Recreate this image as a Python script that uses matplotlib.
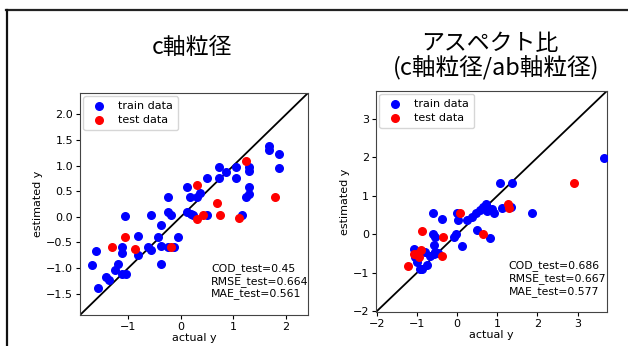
import matplotlib
matplotlib.use("Agg")
import matplotlib.pyplot as plt
from matplotlib.lines import Line2D

# c-axis grain size
c_train_x = [-1.69, -1.62, -1.57, -1.43, -1.37, -1.25, -1.19, -1.12, -1.12, -1.12, -1.05, -1.06,
             -0.81, -0.81, -0.63, -0.57, -0.57, -0.44, -0.38, -0.38, -0.38, -0.25, -0.25, -0.25,
             -0.19, -0.13, -0.06, 0.11, 0.11, 0.17, 0.19, 0.23, 0.30, 0.36, 0.49, 0.49, 0.73,
             0.73, 0.85, 1.05, 1.05, 1.17, 1.24, 1.30, 1.30, 1.30, 1.30, 1.67, 1.67, 1.86, 1.86]
c_train_y = [-0.95, -0.66, -1.39, -1.17, -1.24, -1.05, -0.93, -0.59, -0.71, -1.11, -1.11, 0.02,
             -0.38, -0.74, -0.59, 0.03, -0.64, -0.39, -0.16, -0.58, -0.93, 0.39, 0.09, -0.60,
             0.03, -0.59, -0.39, 0.59, 0.09, 0.39, 0.05, 0.03, 0.39, 0.47, 0.76, 0.03, 0.97,
             0.76, 0.88, 0.97, 0.76, 0.03, 0.39, 0.98, 0.90, 0.59, 0.44, 1.38, 1.30, 1.22, 0.95]
c_test_x = [-1.31, -1.06, -0.88, -0.19, 0.30, 0.30, 0.43, 0.68, 0.74, 1.11, 1.24, 1.79]
c_test_y = [-0.59, -0.39, -0.63, -0.59, 0.62, -0.04, 0.03, 0.26, 0.03, -0.03, 1.09, 0.39]
c_stats = ["COD_test=0.45", "RMSE_test=0.664", "MAE_test=0.561"]

# aspect ratio
a_train_x = [-1.08, -1.04, -1.00, -0.93, -0.875, -0.79, -0.75, -0.67, -0.58, -0.54, -0.48,
             -0.60, -0.60, -0.54, -0.58, -0.375, -0.08, -0.04, 0.00, 0.03, 0.125, 0.25, 0.375,
             0.46, 0.50, 0.57, 0.65, 0.71, 0.75, 0.79, 0.83, 0.875, 0.93, 1.06, 1.11, 1.33,
             1.375, 1.875, 3.65]
a_train_y = [-0.37, -0.59, -0.72, -0.89, -0.89, -0.46, -0.80, -0.57, -0.52, -0.46, -0.48,
             0.56, 0.00, -0.07, -0.29, 0.41, -0.07, 0.00, 0.55, 0.38, -0.31, 0.38, 0.45,
             0.55, 0.10, 0.62, 0.71, 0.80, 0.60, 0.67, -0.09, 0.67, 0.56, 1.33, 0.69, 0.71,
             1.33, 0.55, 1.99]
a_test_x = [-1.225, -1.07, -1.00, -0.96, -0.90, -0.875, -0.375, -0.36, 0.083, 0.64, 1.27, 1.29, 2.92]
a_test_y = [-0.82, -0.52, -0.52, -0.59, -0.40, 0.08, -0.57, -0.07, 0.56, 0.00, 0.80, 0.68, 1.34]
a_stats = ["COD_test=0.686", "RMSE_test=0.667", "MAE_test=0.577"]

JP = ["Noto Sans CJK JP", "DejaVu Sans"]


def draw_panel(ax, tr_x, tr_y, te_x, te_y, stats, lims):
    ax.scatter(tr_x, tr_y, s=30, color="blue", label="train data", zorder=3)
    ax.scatter(te_x, te_y, s=30, color="red", label="test data", zorder=3)
    ax.plot(lims, lims, color="black", lw=1.3, zorder=2)
    ax.set_xlim(lims)
    ax.set_ylim(lims)
    ax.set_xlabel("actual y", fontsize=8, labelpad=1)
    ax.set_ylabel("estimated y", fontsize=8, labelpad=2)
    ax.tick_params(labelsize=8, length=3, pad=2)
    ax.legend(loc="upper left", fontsize=8, handletextpad=0.7, borderpad=0.45,
              labelspacing=0.35, borderaxespad=0.3)
    ax.text(0.575, 0.07, "\n".join(stats), transform=ax.transAxes, fontsize=7.8,
            ha="left", va="bottom", linespacing=1.2)
    for sp in ax.spines.values():
        sp.set_color("#444444")


fig = plt.figure(figsize=(6.28, 3.46), dpi=100)
ax1 = fig.add_axes([0.1274, 0.0896, 0.363, 0.6416])
ax2 = fig.add_axes([0.5987, 0.0983, 0.3678, 0.639])

draw_panel(ax1, c_train_x, c_train_y, c_test_x, c_test_y, c_stats, [-1.92, 2.42])
draw_panel(ax2, a_train_x, a_train_y, a_test_x, a_test_y, a_stats, [-2.02, 3.73])
ax1.set_xticks([-1, 0, 1, 2])
ax1.set_yticks([-1.5, -1.0, -0.5, 0.0, 0.5, 1.0, 1.5, 2.0])
ax2.set_xticks([-2, -1, 0, 1, 2, 3])
ax2.set_yticks([-2, -1, 0, 1, 2, 3])

fig.text(0.306, 0.864, "c軸粒径", family=JP, fontsize=16.5, ha="center", va="center")
fig.text(0.780, 0.873, "アスペクト比", family=JP, fontsize=16.5, ha="center", va="center")
fig.text(0.790, 0.803, "(c軸粒径/ab軸粒径)", family=JP, fontsize=17, ha="center", va="center")

# slide frame
fig.add_artist(Line2D([0.010, 1.0], [0.971, 0.971], color="#222222", lw=1.6, transform=fig.transFigure))
fig.add_artist(Line2D([0.011, 0.011], [0.0, 0.971], color="#111111", lw=1.6, transform=fig.transFigure))

fig.savefig("out.png", dpi=100)
plt.close(fig)
